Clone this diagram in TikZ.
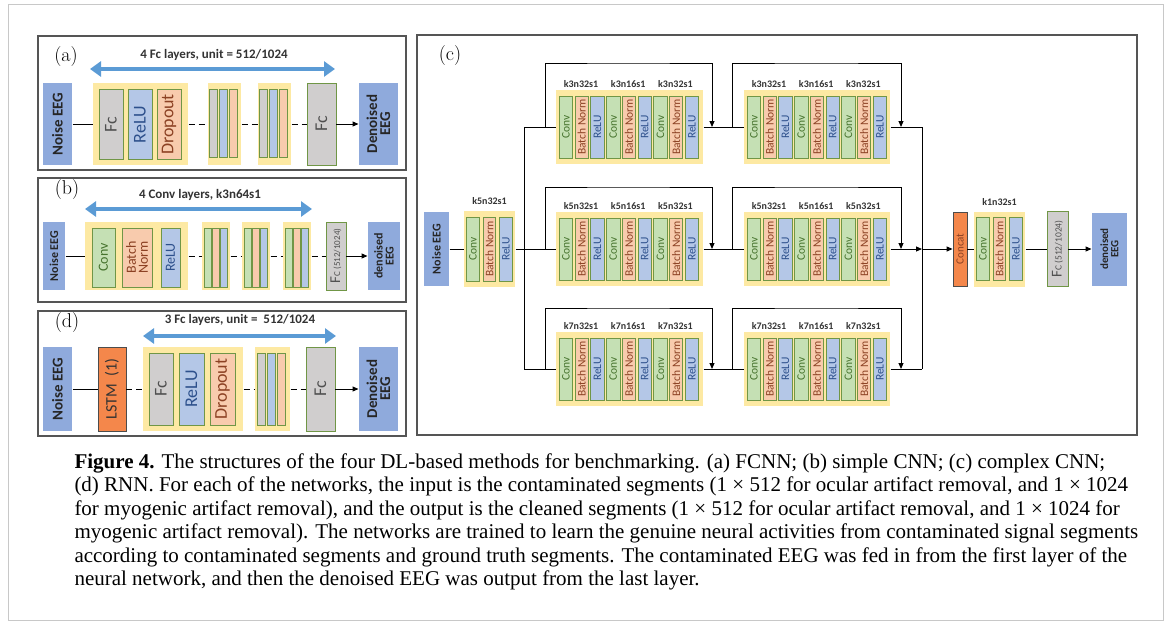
\documentclass[tikz,border=0pt]{standalone}
\usepackage{fontspec}
\usepackage{graphicx}
\setsansfont{Carlito}
\newfontfamily\capfont{Liberation Serif}
\usetikzlibrary{arrows.meta,positioning}

\definecolor{framegray}{RGB}{200,200,200}
\definecolor{panelgray}{RGB}{85,85,85}
\definecolor{yelfill}{RGB}{253,233,163}
\definecolor{eegblue}{RGB}{143,170,220}
\definecolor{relublue}{RGB}{180,199,231}
\definecolor{convgreen}{RGB}{197,224,180}
\definecolor{bnsalmon}{RGB}{248,203,173}
\definecolor{fcgray}{RGB}{208,206,206}
\definecolor{barline}{RGB}{112,150,70}
\definecolor{lstmorange}{RGB}{244,135,75}
\definecolor{arrblue}{RGB}{91,155,213}
\definecolor{convtext}{RGB}{70,115,45}
\definecolor{bntext}{RGB}{140,65,35}
\definecolor{relutext}{RGB}{45,80,140}
\definecolor{fctext}{RGB}{80,80,80}

\tikzset{
  panel/.style={draw=panelgray, line width=1.3pt},
  yel/.style={fill=yelfill, inner sep=0pt},
  eeg/.style={fill=eegblue, inner sep=0pt, text=black!85},
  bar/.style={draw=barline, line width=0.8pt, inner sep=0pt},
  conv/.style={bar, fill=convgreen, text=convtext},
  bn/.style={bar, fill=bnsalmon, text=bntext},
  relu/.style={bar, fill=relublue, text=relutext},
  fc/.style={bar, fill=fcgray, text=fctext},
  drop/.style={bar, fill=bnsalmon, text=bntext},
  orng/.style={draw=black!70, line width=0.8pt, fill=lstmorange, inner sep=0pt},
  bigarr/.style={draw=arrblue, line width=4.5pt, {Triangle[length=11pt,width=15pt]}-{Triangle[length=11pt,width=15pt]}},
  ttl/.style={font=\sffamily\bfseries\fontsize{13}{13}\selectfont, text=black!80},
  tag/.style={font=\fontsize{20}{20}\selectfont},
  klab/.style={font=\sffamily\bfseries\fontsize{10}{10}\selectfont, text=black!80, inner sep=0pt},
  dsh/.style={dash pattern=on 6pt off 4pt},
  sz/.style 2 args={minimum width=#1pt, minimum height=#2pt},
  btxt/.style={font=\sffamily\fontsize{18}{18}\selectfont},
  mtxt/.style={font=\sffamily\fontsize{14}{14}\selectfont},
  ctxt/.style={font=\sffamily\fontsize{11.5}{11.5}\selectfont},
  captxt/.style={anchor=base west, inner sep=0pt, font=\capfont\fontsize{21}{21}\selectfont},
}

\begin{document}
\begin{tikzpicture}[x=1pt,y=-1pt,line width=1pt,>={Triangle[length=6pt,width=5pt]}]
\useasboundingbox (0,0) rectangle (1167,624);
\draw[framegray] (8,4) rectangle (1163,620);

% (a) FCNN
\draw[panel] (38,36) rectangle (406,170);
\node[tag] (atag) at (66,57) {(a)};
\node[ttl] (attl) at (214,55) {4 Fc layers, unit = 512/1024};
\coordinate (aal) at (90,69); \coordinate (aar) at (335,69);
\draw[bigarr] (aal) -- (aar);
\node[eeg, sz={29}{82}, font=\sffamily\bfseries\fontsize{15}{15}\selectfont] (ain) at (57.5,124) {\rotatebox{90}{Noise EEG}};
\node[yel, sz={95}{82}] (ay1) at (140.5,124) {};
\node[fc, sz={24}{70}, btxt] (afc1) at (111,124.5) {\rotatebox{90}{Fc}};
\node[relu, sz={24}{70}, btxt] (arl1) at (140,124.5) {\rotatebox{90}{ReLU}};
\node[drop, sz={24}{70}, btxt] (adr1) at (169,124.5) {\rotatebox{90}{Dropout}};
\foreach \n/\bx in {2/224.5,3/274.5} {
  \node[yel, sz={33}{82}] (ay\n) at (\bx,124) {};
  \foreach \j/\st in {0/fc,1/relu,2/drop}
    \node[\st, sz={8}{68}] (ay\n-\j) at ({\bx-11.5+10*\j},123.5) {};
}
\node[fc, sz={29}{82}, btxt] (afc) at (321.5,124) {\rotatebox{90}{Fc}};
\node[eeg, sz={39}{82}, font=\sffamily\bfseries\fontsize{15}{17}\selectfont] (aout) at (378.5,124) {\rotatebox{90}{\shortstack{Denoised\\EEG}}};
\draw (ain) -- (ay1);
\draw[dsh] (ay1) -- (ay2);
\draw[dsh] (ay2) -- (ay3);
\draw[dsh] (ay3) -- (afc);
\draw[->] (afc) -- (aout);

% (b) simple CNN
\draw[panel] (38,178) rectangle (406,302);
\node[tag] (btag) at (67,190) {(b)};
\node[ttl] (bttl) at (200,195) {4 Conv layers, k3n64s1};
\coordinate (bal) at (85,209); \coordinate (bar) at (312,209);
\draw[bigarr] (bal) -- (bar);
\node[eeg, sz={22}{68}, font=\sffamily\bfseries\fontsize{12}{12}\selectfont] (bin) at (54,256) {\rotatebox{90}{Noise EEG}};
\node[yel, sz={103}{68}] (by1) at (136.5,256) {};
\node[conv, sz={23}{59}, mtxt] (bcv1) at (103.5,257.5) {\rotatebox{90}{Conv}};
\node[bn, sz={30}{59}, mtxt] (bbn1) at (137,257.5) {\rotatebox{90}{\shortstack{Batch\\Norm}}};
\node[relu, sz={19}{59}, mtxt] (brl1) at (170.5,257.5) {\rotatebox{90}{ReLU}};
\foreach \n/\bx in {2/216,3/256,4/297} {
  \node[yel, sz={28}{68}] (by\n) at (\bx,256) {};
  \foreach \j/\st in {0/conv,1/bn,2/relu}
    \node[\st, sz={7}{59}] (by\n-\j) at ({\bx-8.3+8*\j},257.5) {};
}
\node[fc, sz={20}{68}, font=\sffamily] (bfc) at (336,256) {\rotatebox{90}{{\fontsize{15}{15}\selectfont F}{\fontsize{9}{9}\selectfont C (512/1024)}}};
\node[eeg, sz={32}{68}, font=\sffamily\bfseries\fontsize{12}{13}\selectfont] (bout) at (384,256) {\rotatebox{90}{\shortstack{denoised\\EEG}}};
\draw (bin) -- (by1);
\draw[dsh] (by1) -- (by2);
\draw[dsh] (by2) -- (by3);
\draw[dsh] (by3) -- (by4);
\draw[dsh] (by4) -- (bfc);
\draw[->] (bfc) -- (bout);

% (d) RNN
\draw[panel] (38,311) rectangle (406,436);
\node[tag] (dtag) at (67,323) {(d)};
\node[ttl] (dttl) at (240,320) {3 Fc layers, unit =\ \ 512/1024};
\coordinate (dal) at (143,336); \coordinate (dar) at (336,336);
\draw[bigarr] (dal) -- (dar);
\node[eeg, sz={29}{84}, font=\sffamily\bfseries\fontsize{15}{15}\selectfont] (din) at (57.5,389) {\rotatebox{90}{Noise EEG}};
\node[orng, sz={28}{84}, font=\sffamily\fontsize{16}{16}\selectfont, text=black!80] (dlstm) at (112,389) {\rotatebox{90}{LSTM\ \ (1)}};
\node[yel, sz={100}{84}] (dy1) at (193,389) {};
\node[fc, sz={24}{72}, btxt] (dfc1) at (161,389) {\rotatebox{90}{Fc}};
\node[relu, sz={25}{72}, btxt] (drl1) at (191.5,389) {\rotatebox{90}{ReLU}};
\node[drop, sz={25}{72}, btxt] (ddr1) at (222.5,389) {\rotatebox{90}{Dropout}};
\node[yel, sz={35}{84}] (dy2) at (272.5,389) {};
\foreach \j/\st in {0/fc,1/relu,2/drop}
  \node[\st, sz={8}{72}] (dy2-\j) at ({261+10*\j},389) {};
\node[fc, sz={29}{84}, btxt] (dfc) at (320.5,389) {\rotatebox{90}{Fc}};
\node[eeg, sz={39}{84}, font=\sffamily\bfseries\fontsize{15}{17}\selectfont] (dout) at (378.5,389) {\rotatebox{90}{\shortstack{Denoised\\EEG}}};
\draw (din) -- (dlstm);
\draw[dsh] (dlstm) -- (dy1);
\draw[dsh] (dy1) -- (dy2);
\draw[dsh] (dy2) -- (dfc);
\draw[->] (dfc) -- (dout);

% (c) complex CNN
\draw[panel] (417,35) rectangle (1137,435);
\node[tag] (ctag) at (450,56) {(c)};
\node[eeg, sz={25}{74}, font=\sffamily\bfseries\fontsize{12}{12}\selectfont] (cin) at (436.5,249) {\rotatebox{90}{Noise EEG}};
\node[yel, sz={51}{76}] (c0) at (489.5,249) {};
\node[klab, above=5pt of c0] (c0k) {k5n32s1};
\foreach \j/\st/\txt in {0/conv/Conv,1/bn/Batch Norm,2/relu/ReLU}
  \node[\st, sz={12.5}{64}, ctxt] (c0-\j) at ({473+16.5*\j},249) {\rotatebox{90}{\txt}};
\foreach \r/\yy/\kk/\ys in {t/127/3/63, m/249/5/187, b/369/7/308} {
  \node[yel, sz={147}{74}] (\r1) at (629.5,\yy) {};
  \node[yel, sz={146}{74}] (\r2) at (817,\yy) {};
  \foreach \g/\gx in {1/556,2/744} {
    \foreach \i/\nn in {0/32,1/16,2/32} {
      \node[klab] (\r\g k\i) at ({\gx+25+47.2*\i},{\yy-43}) {k\kk n\nn s1};
      \foreach \j/\st/\txt in {0/conv/Conv,1/bn/Batch Norm,2/relu/ReLU}
        \node[\st, sz={13.5}{62}, ctxt] (\r\g-\i\j) at ({\gx+10+47.2*\i+15.73*\j},\yy) {\rotatebox{90}{\txt}};
    }
  }
  \coordinate (\r p) at (524,\yy);
  \coordinate (\r s1) at (545,\yy); \coordinate (\r h1) at (628,\ys); \coordinate (\r e1) at (712,\yy);
  \coordinate (\r s2) at (732,\yy); \coordinate (\r h2) at (816,\ys); \coordinate (\r e2) at (901,\yy);
  \coordinate (\r j) at (922,\yy);
  \draw (\r p) -- (\r1);
  \draw (\r1) -- (\r2);
  \draw[->] (\r s1) |- (\r h1) -| (\r e1);
  \draw[->] (\r s2) |- (\r h2) -| (\r e2);
}
\draw (cin) -- (c0);
\draw (c0) -- (mp);
\draw (tp) -- (bp);
\draw (t2) -- (tj);
\draw (b2) -- (bj);
\draw (tj) -- (bj);
\draw[->] (m2) -- (mj);
\node[orng, sz={14}{74}, font=\sffamily\fontsize{11}{11}\selectfont, text=bntext] (ccat) at (960,249) {\rotatebox{90}{Concat}};
\node[yel, sz={51}{75}] (c1) at (999.5,249) {};
\node[klab, above=5pt of c1] (c1k) {k1n32s1};
\foreach \j/\st/\txt in {0/conv/Conv,1/bn/Batch Norm,2/relu/ReLU}
  \node[\st, sz={12.5}{63}, ctxt] (c1-\j) at ({983+16.5*\j},249) {\rotatebox{90}{\txt}};
\node[fc, sz={21}{75}, font=\sffamily] (cfc) at (1057.5,249) {\rotatebox{90}{{\fontsize{15}{15}\selectfont F}{\fontsize{9.5}{9.5}\selectfont C (512/1024)}}};
\node[eeg, sz={35}{73}, font=\sffamily\bfseries\fontsize{11}{12}\selectfont] (cout) at (1109.5,249) {\rotatebox{90}{\shortstack{denoised\\EEG}}};
\draw[->] (mj) -- (ccat);
\draw (ccat) -- (c1);
\draw (c1) -- (cfc);
\draw[->] (cfc) -- (cout);

% caption
\node[captxt] (cap1) at (74,468) {\textbf{Figure 4.} The structures of the four DL-based methods for benchmarking. (a) FCNN; (b) simple CNN; (c) complex CNN;};
\node[captxt] (cap2) at (74,491.5) {(d) RNN. For each of the networks, the input is the contaminated segments (1 × 512 for ocular artifact removal, and 1 × 1024};
\node[captxt] (cap3) at (74,515) {for myogenic artifact removal), and the output is the cleaned segments (1 × 512 for ocular artifact removal, and 1 × 1024 for};
\node[captxt] (cap4) at (74,538.5) {myogenic artifact removal). The networks are trained to learn the genuine neural activities from contaminated signal segments};
\node[captxt] (cap5) at (74,562) {according to contaminated segments and ground truth segments. The contaminated EEG was fed in from the first layer of the};
\node[captxt] (cap6) at (74,585.5) {neural network, and then the denoised EEG was output from the last layer.};
\end{tikzpicture}
\end{document}
